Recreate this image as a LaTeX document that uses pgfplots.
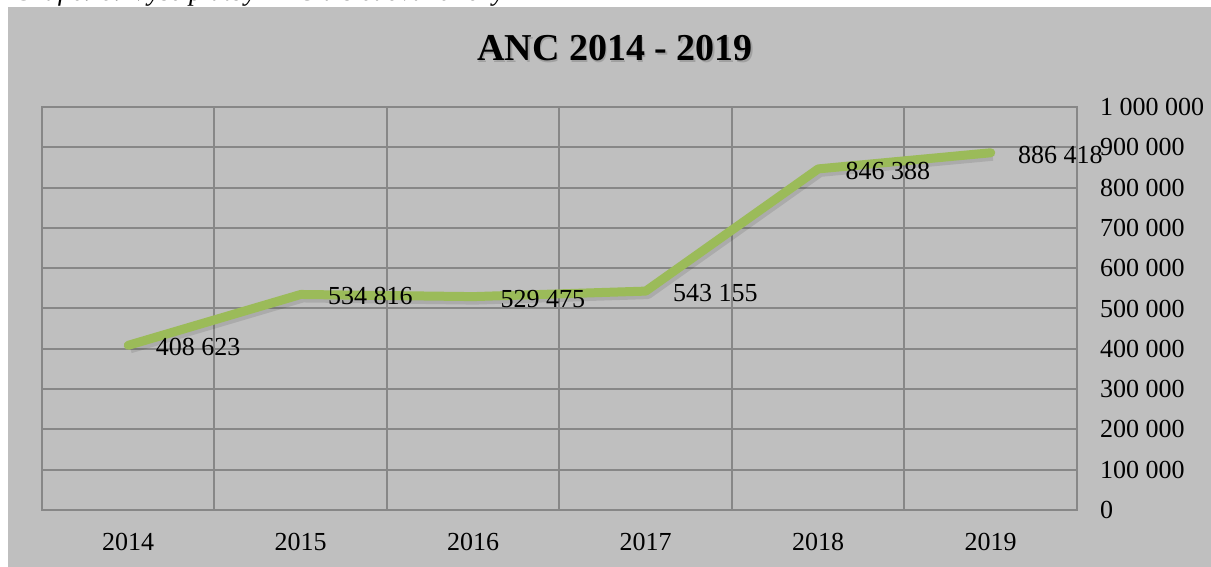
\documentclass[border=0pt]{standalone}
\usepackage{fontspec}
\setmainfont{Liberation Serif}
\usepackage{pgfplots}
\pgfplotsset{compat=1.18}
\definecolor{bg}{HTML}{BFBFBF}
\definecolor{gridc}{HTML}{878787}
\definecolor{linec}{HTML}{9BBB59}
\begin{document}
\begin{tikzpicture}
\useasboundingbox (0,0) rectangle (605.5pt,283.5pt);
\clip (0,0) rectangle (605.5pt,283.5pt);
\fill[bg] (4pt,0) rectangle (605.5pt,280pt);
\node[anchor=base west, inner sep=0pt, font=\fontsize{13.5}{15}\selectfont\itshape] at (7pt,283pt) {Graf č. 6: Výše platby ANC a sledované roky};
\node[font=\fontsize{19}{22}\selectfont\bfseries, text=black!45, opacity=0.6] at (308.3pt,258.7pt) {ANC 2014 - 2019};
\node[font=\fontsize{19}{22}\selectfont\bfseries] at (307.5pt,259.5pt) {ANC 2014 - 2019};
\begin{axis}[
  at={(21pt,28.5pt)}, anchor=south west,
  scale only axis, width=517.5pt, height=201.5pt,
  xmin=-0.5, xmax=5.5, ymin=0, ymax=1000000,
  xtick={0,1,2,3,4,5},
  xticklabels={2014,2015,2016,2017,2018,2019},
  minor xtick={-0.5,0.5,1.5,2.5,3.5,4.5,5.5},
  xminorgrids=true, xmajorgrids=false,
  ytick={0,100000,...,1000000},
  ymajorgrids=true,
  grid style={gridc, line width=1pt},
  minor grid style={gridc, line width=1pt},
  axis line style={gridc, line width=1pt},
  major tick length=0pt, minor tick length=0pt,
  yticklabel pos=right,
  scaled y ticks=false,
  /pgf/number format/assume math mode=true,
  /pgf/number format/.cd, fixed, precision=0, 1000 sep={\ },
  /pgfplots/.cd,
  tick label style={font=\fontsize{13}{15}\selectfont, text=black},
  xticklabel style={anchor=north, yshift=-8pt},
  yticklabel style={anchor=west, xshift=8pt},
  clip=false,
]
\addplot[black, opacity=0.1, line width=5pt, line join=round, xshift=1pt, yshift=-1.5pt] coordinates {
 (0,408623) (1,534816) (2,529475) (3,543155) (4,846388) (5,886418)};
\addplot[linec, line width=4.5pt, line join=round, line cap=round,
  nodes near coords,
  every node near coord/.style={anchor=west, inner sep=0pt, xshift=11.5pt, yshift=-1pt, font=\fontsize{13}{15}\selectfont, text=black, opacity=1},
] coordinates {
 (0,408623) (1,534816) (2,529475) (3,543155) (4,846388) (5,886418)};
\end{axis}
\end{tikzpicture}
\end{document}
